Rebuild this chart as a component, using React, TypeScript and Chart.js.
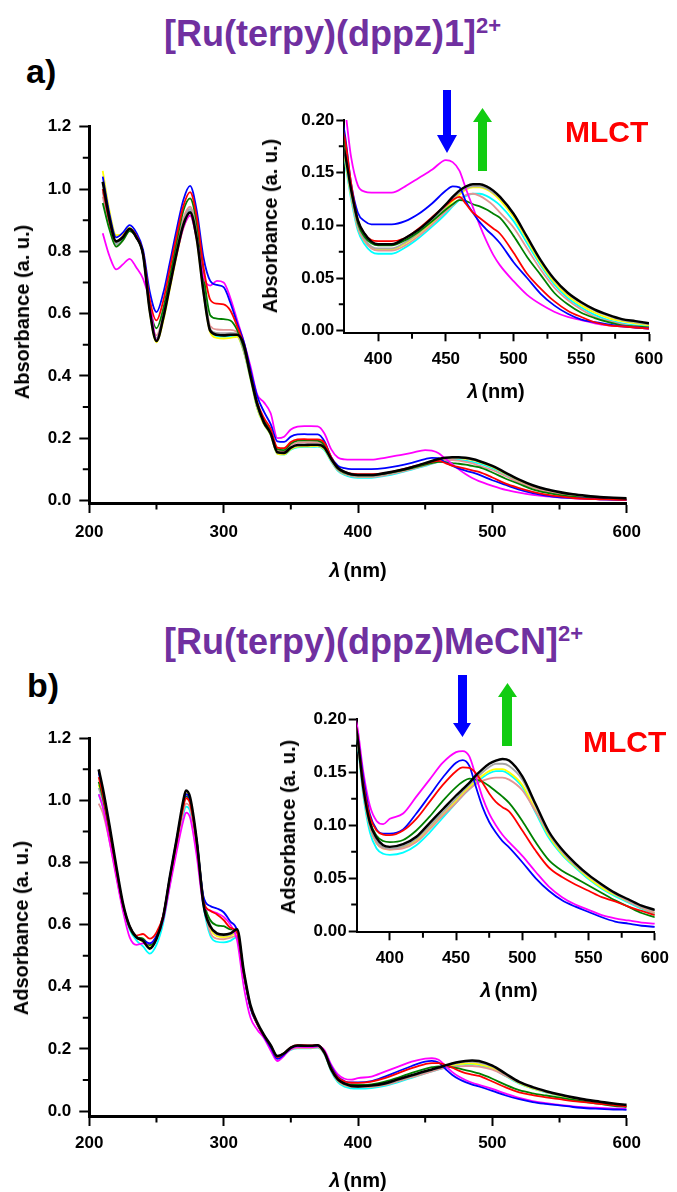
import React, { useEffect, useRef } from 'react';
import { Chart, registerables } from 'chart.js';

Chart.register(...registerables);

const FONT = "'Liberation Sans', Arial, Helvetica, sans-serif";

// ---------------- Panel a data ----------------
const wavelengthA = [210,215,220,225,230,235,240,245,250,255,260,265,270,275,280,285,290,295,300,305,310,315,320,325,330,335,340,345,350,355,360,365,370,375,380,385,390,395,400,410,420,430,440,450,455,460,465,470,475,480,485,490,500,510,520,530,540,550,560,570,580,590,600];

const absA_black = [1.023,0.905,0.832,0.845,0.872,0.845,0.79,0.61,0.512,0.585,0.69,0.795,0.885,0.925,0.84,0.67,0.545,0.532,0.53,0.532,0.532,0.5,0.4,0.31,0.25,0.215,0.155,0.153,0.17,0.178,0.178,0.179,0.179,0.17,0.134,0.105,0.092,0.0845,0.082,
  0.082,0.088,0.096,0.107,0.12,0.127,0.133,0.137,0.139,0.139,0.137,0.133,0.127,0.111,0.089,0.067,0.049,0.036,0.027,0.02,0.015,0.011,0.009,0.007];
const absA_blue = [1.04,0.92,0.845,0.86,0.884,0.86,0.805,0.67,0.605,0.665,0.765,0.87,0.965,1.01,0.93,0.78,0.705,0.692,0.685,0.635,0.57,0.51,0.42,0.335,0.285,0.245,0.19,0.188,0.205,0.212,0.213,0.212,0.212,0.19,0.14,0.112,0.104,0.101,0.101,
  0.101,0.104,0.111,0.121,0.133,0.137,0.136,0.122,0.112,0.103,0.096,0.09,0.083,0.065,0.05,0.035,0.024,0.016,0.0105,0.008,0.006,0.004,0.003,0.002];
const absA_red = [1.0,0.895,0.83,0.848,0.872,0.85,0.795,0.645,0.578,0.64,0.745,0.85,0.945,0.99,0.91,0.75,0.645,0.632,0.63,0.61,0.56,0.5,0.405,0.315,0.265,0.23,0.17,0.168,0.188,0.196,0.197,0.196,0.196,0.185,0.14,0.105,0.092,0.086,0.085,
  0.085,0.088,0.097,0.108,0.119,0.124,0.127,0.12,0.112,0.107,0.102,0.097,0.092,0.074,0.054,0.04,0.028,0.019,0.013,0.008,0.005,0.004,0.003,0.002];
const absA_green = [0.955,0.87,0.815,0.835,0.865,0.845,0.79,0.625,0.553,0.615,0.72,0.83,0.93,0.97,0.89,0.725,0.595,0.584,0.582,0.578,0.548,0.49,0.4,0.305,0.258,0.222,0.165,0.162,0.183,0.192,0.193,0.193,0.192,0.178,0.135,0.102,0.089,0.083,0.081,
  0.081,0.086,0.094,0.104,0.115,0.12,0.124,0.123,0.12,0.118,0.115,0.111,0.107,0.09,0.07,0.053,0.036,0.025,0.017,0.012,0.008,0.005,0.004,0.003];
const absA_pink = [0.975,0.88,0.815,0.835,0.865,0.843,0.788,0.61,0.53,0.595,0.7,0.81,0.905,0.943,0.865,0.7,0.56,0.549,0.548,0.548,0.54,0.485,0.398,0.302,0.255,0.218,0.16,0.158,0.178,0.186,0.187,0.187,0.187,0.174,0.13,0.098,0.085,0.078,0.076,
  0.076,0.081,0.09,0.101,0.113,0.119,0.125,0.129,0.13,0.128,0.124,0.119,0.112,0.098,0.078,0.058,0.041,0.029,0.02,0.013,0.009,0.006,0.004,0.003];
const absA_yellow = [1.058,0.93,0.852,0.855,0.875,0.848,0.79,0.605,0.508,0.575,0.68,0.785,0.875,0.915,0.835,0.665,0.54,0.522,0.52,0.522,0.525,0.478,0.39,0.295,0.245,0.21,0.15,0.148,0.165,0.173,0.174,0.174,0.175,0.165,0.128,0.098,0.085,0.079,0.077,
  0.077,0.083,0.092,0.103,0.116,0.123,0.129,0.134,0.136,0.136,0.134,0.13,0.124,0.108,0.086,0.064,0.046,0.033,0.024,0.017,0.012,0.009,0.007,0.005];
const absA_cyan = [1.0,0.89,0.825,0.84,0.868,0.845,0.79,0.61,0.52,0.585,0.69,0.8,0.893,0.935,0.855,0.69,0.548,0.528,0.526,0.527,0.528,0.478,0.39,0.295,0.245,0.21,0.15,0.147,0.163,0.171,0.172,0.172,0.173,0.162,0.125,0.095,0.082,0.075,0.073,
  0.073,0.079,0.088,0.099,0.111,0.118,0.124,0.128,0.13,0.13,0.128,0.124,0.119,0.104,0.083,0.062,0.044,0.031,0.022,0.015,0.01,0.007,0.005,0.004];
const absA_gray = [0.99,0.885,0.822,0.84,0.868,0.845,0.79,0.615,0.52,0.59,0.695,0.8,0.893,0.935,0.855,0.69,0.55,0.538,0.537,0.538,0.535,0.48,0.395,0.3,0.25,0.213,0.153,0.151,0.168,0.176,0.177,0.177,0.177,0.168,0.13,0.1,0.087,0.08,0.078,
  0.078,0.084,0.093,0.105,0.118,0.125,0.131,0.135,0.137,0.137,0.135,0.131,0.126,0.11,0.088,0.066,0.048,0.035,0.026,0.019,0.014,0.01,0.008,0.006];
const absA_magenta = [0.858,0.785,0.742,0.758,0.776,0.748,0.712,0.64,0.515,0.585,0.69,0.79,0.875,0.915,0.84,0.72,0.69,0.705,0.7,0.65,0.58,0.51,0.43,0.34,0.315,0.28,0.2,0.205,0.228,0.237,0.239,0.239,0.238,0.215,0.165,0.138,0.132,0.131,0.131,
  0.131,0.137,0.145,0.153,0.162,0.16,0.152,0.134,0.117,0.1,0.085,0.072,0.062,0.047,0.034,0.025,0.018,0.013,0.01,0.007,0.005,0.004,0.003,0.002];

// ---------------- Panel b data ----------------
const wavelengthB = [207,210,215,220,225,230,235,240,245,250,255,260,265,270,272,275,280,285,290,295,300,305,310,315,320,325,330,335,340,345,350,355,360,365,370,375,380,385,390,395,400,410,420,430,440,450,455,460,465,470,475,480,485,490,500,510,520,530,540,550,560,570,580,590,600];

const absB_black = [1.1,1.04,0.92,0.79,0.67,0.595,0.56,0.548,0.523,0.555,0.625,0.755,0.875,1.0,1.032,1.01,0.87,0.665,0.595,0.572,0.568,0.572,0.585,0.45,0.34,0.285,0.245,0.212,0.177,0.186,0.204,0.211,0.21,0.21,0.212,0.188,0.135,0.102,0.088,0.081,0.0795,
  0.082,0.089,0.102,0.115,0.128,0.134,0.14,0.147,0.153,0.158,0.161,0.1625,0.161,0.146,0.12,0.094,0.077,0.064,0.053,0.044,0.036,0.03,0.024,0.02];
const absB_red = [1.075,1.02,0.905,0.78,0.665,0.595,0.565,0.57,0.555,0.575,0.63,0.75,0.865,0.98,1.007,0.99,0.86,0.675,0.645,0.633,0.615,0.59,0.575,0.44,0.335,0.28,0.242,0.21,0.174,0.186,0.205,0.212,0.212,0.211,0.213,0.19,0.14,0.108,0.095,0.091,0.0905,
  0.095,0.106,0.122,0.138,0.151,0.1545,0.154,0.149,0.14,0.13,0.122,0.117,0.113,0.095,0.076,0.06,0.051,0.044,0.038,0.032,0.028,0.023,0.019,0.015];
const absB_blue = [1.09,1.03,0.91,0.785,0.665,0.595,0.56,0.55,0.54,0.565,0.63,0.755,0.875,0.99,1.02,1.0,0.87,0.69,0.66,0.652,0.64,0.61,0.58,0.44,0.33,0.28,0.24,0.205,0.168,0.182,0.203,0.21,0.209,0.209,0.211,0.19,0.145,0.11,0.096,0.092,0.092,
  0.096,0.111,0.128,0.145,0.159,0.1615,0.156,0.136,0.117,0.103,0.093,0.085,0.079,0.065,0.05,0.038,0.029,0.023,0.018,0.013,0.009,0.007,0.005,0.004];
const absB_magenta = [1.02,0.98,0.87,0.755,0.645,0.56,0.535,0.54,0.54,0.56,0.615,0.725,0.835,0.935,0.961,0.945,0.82,0.665,0.645,0.637,0.625,0.6,0.55,0.4,0.3,0.262,0.235,0.195,0.161,0.178,0.2,0.207,0.206,0.206,0.208,0.196,0.15,0.118,0.104,0.101,0.106,
  0.111,0.127,0.143,0.159,0.169,0.17,0.165,0.146,0.126,0.111,0.1,0.091,0.084,0.071,0.056,0.042,0.032,0.025,0.02,0.015,0.012,0.01,0.008,0.007];
const absB_green = [1.06,1.01,0.895,0.775,0.66,0.59,0.56,0.555,0.534,0.56,0.625,0.75,0.87,0.985,1.013,0.995,0.865,0.68,0.615,0.598,0.595,0.585,0.58,0.445,0.335,0.282,0.243,0.21,0.175,0.186,0.204,0.21,0.209,0.209,0.211,0.189,0.14,0.104,0.09,0.085,0.084,
  0.086,0.095,0.108,0.123,0.136,0.141,0.144,0.143,0.141,0.137,0.132,0.127,0.121,0.104,0.084,0.067,0.057,0.05,0.043,0.036,0.029,0.023,0.017,0.013];
const absB_pink = [0.99,0.96,0.87,0.76,0.655,0.59,0.56,0.55,0.535,0.56,0.62,0.74,0.855,0.965,0.99,0.975,0.85,0.67,0.575,0.555,0.553,0.558,0.565,0.445,0.335,0.28,0.24,0.208,0.175,0.184,0.198,0.203,0.203,0.203,0.205,0.185,0.132,0.098,0.083,0.078,0.077,
  0.078,0.084,0.096,0.109,0.121,0.128,0.134,0.139,0.142,0.144,0.145,0.145,0.143,0.133,0.113,0.092,0.075,0.062,0.052,0.043,0.035,0.028,0.022,0.017];
const absB_yellow = [1.05,1.01,0.9,0.78,0.665,0.595,0.56,0.545,0.53,0.555,0.625,0.75,0.87,0.99,1.023,1.005,0.87,0.685,0.59,0.563,0.56,0.564,0.575,0.445,0.335,0.282,0.243,0.21,0.176,0.185,0.199,0.204,0.204,0.204,0.206,0.185,0.132,0.098,0.083,0.078,0.077,
  0.079,0.085,0.097,0.11,0.123,0.13,0.136,0.142,0.147,0.151,0.153,0.153,0.15,0.138,0.114,0.09,0.073,0.061,0.05,0.041,0.034,0.028,0.022,0.017];
const absB_cyan = [1.02,0.98,0.88,0.765,0.655,0.585,0.55,0.53,0.507,0.535,0.605,0.73,0.85,0.955,0.98,0.965,0.84,0.66,0.565,0.545,0.543,0.548,0.56,0.44,0.333,0.28,0.24,0.207,0.173,0.183,0.197,0.202,0.202,0.202,0.204,0.183,0.128,0.093,0.078,0.073,0.072,
  0.074,0.081,0.093,0.107,0.121,0.128,0.134,0.14,0.145,0.149,0.151,0.151,0.148,0.136,0.112,0.088,0.072,0.06,0.049,0.04,0.033,0.027,0.021,0.016];
const absB_gray = [1.04,1.0,0.895,0.775,0.662,0.593,0.56,0.548,0.525,0.553,0.623,0.75,0.87,0.99,1.02,1.0,0.87,0.685,0.6,0.568,0.565,0.568,0.58,0.447,0.337,0.283,0.244,0.211,0.176,0.186,0.202,0.208,0.207,0.207,0.209,0.187,0.134,0.1,0.085,0.079,0.078,
  0.08,0.087,0.099,0.112,0.125,0.132,0.138,0.144,0.15,0.155,0.158,0.158,0.156,0.143,0.118,0.092,0.075,0.062,0.052,0.043,0.035,0.029,0.023,0.019];

// ---------------- Axis ticks ----------------
const mainXMajor = [200, 300, 400, 500, 600];
const mainXMinor = [250, 350, 450, 550];
const mainYMajor = [0, 0.2, 0.4, 0.6, 0.8, 1.0, 1.2];
const mainYMinor = [0.1, 0.3, 0.5, 0.7, 0.9, 1.1];
const insetXMajor = [400, 450, 500, 550, 600];
const insetXMinor = [425, 475, 525, 575];
const insetYMajor = [0, 0.05, 0.1, 0.15, 0.2];
const insetYMinor = [0.025, 0.075, 0.125, 0.175];

const COLORS = {
  black: '#000000', red: '#FF0000', blue: '#0000FF', magenta: '#FF00FF', green: '#008000',
  gray: '#A6A6A6', pink: '#E39494', yellow: '#FFFF00', cyan: '#00FFFF',
};

const seriesA = [
  { color: COLORS.black, values: absA_black },
  { color: COLORS.red, values: absA_red },
  { color: COLORS.blue, values: absA_blue },
  { color: COLORS.magenta, values: absA_magenta },
  { color: COLORS.green, values: absA_green },
  { color: COLORS.gray, values: absA_gray },
  { color: COLORS.pink, values: absA_pink },
  { color: COLORS.yellow, values: absA_yellow },
  { color: COLORS.cyan, values: absA_cyan },
];
const seriesB = [
  { color: COLORS.black, values: absB_black },
  { color: COLORS.red, values: absB_red },
  { color: COLORS.blue, values: absB_blue },
  { color: COLORS.magenta, values: absB_magenta },
  { color: COLORS.green, values: absB_green },
  { color: COLORS.gray, values: absB_gray },
  { color: COLORS.pink, values: absB_pink },
  { color: COLORS.yellow, values: absB_yellow },
  { color: COLORS.cyan, values: absB_cyan },
];

const minorTicksPlugin = {
  id: 'minorTicks',
  afterDraw(chart: any, _args: any, opts: any) {
    const { ctx, chartArea } = chart;
    const xs = chart.scales.x;
    const ys = chart.scales.y;
    ctx.save();
    ctx.strokeStyle = '#000';
    ctx.lineWidth = opts.width;
    ctx.beginPath();
    for (const v of opts.x) {
      const p = xs.getPixelForValue(v);
      ctx.moveTo(p, chartArea.bottom);
      ctx.lineTo(p, chartArea.bottom + opts.len);
    }
    for (const v of opts.y) {
      const p = ys.getPixelForValue(v);
      ctx.moveTo(chartArea.left, p);
      ctx.lineTo(chartArea.left - opts.len, p);
    }
    ctx.stroke();
    ctx.restore();
  },
};

type Spec = {
  left: number; top: number; w: number; h: number;
  xs: number[]; series: { color: string; values: number[] }[];
  xMin: number; xMax: number; yMin: number; yMax: number;
  xMajor: number[]; xMinor: number[]; yMajor: number[]; yMinor: number[];
  yDigits: number; padTop: number; padRight: number; yWidth: number; xHeight: number;
  tl: number; minorLen: number; border: number; xPad: number; yPad: number;
  lw: number; blackLw: number; fontSize: number;
};

function buildConfig(s: Spec): any {
  const tickFont = { family: FONT, size: s.fontSize, weight: 'bold' as const };
  return {
    type: 'line',
    data: {
      datasets: s.series.map((ser) => ({
        data: s.xs.map((x, i) => ({ x, y: ser.values[i] })),
        borderColor: ser.color,
        backgroundColor: ser.color,
        borderWidth: ser.color === COLORS.black ? s.blackLw : s.lw,
        pointRadius: 0,
        fill: false,
        cubicInterpolationMode: 'monotone',
      })),
    },
    plugins: [minorTicksPlugin],
    options: {
      animation: false,
      responsive: false,
      maintainAspectRatio: false,
      devicePixelRatio: 1,
      events: [],
      layout: { padding: { top: s.padTop, right: s.padRight, left: 0, bottom: 0 } },
      plugins: {
        legend: { display: false },
        tooltip: { enabled: false },
        title: { display: false },
        minorTicks: { x: s.xMinor, y: s.yMinor, len: s.minorLen, width: 2 },
      },
      scales: {
        x: {
          type: 'linear',
          min: s.xMin,
          max: s.xMax,
          afterBuildTicks: (axis: any) => { axis.ticks = s.xMajor.map((v) => ({ value: v })); },
          afterFit: (axis: any) => { axis.height = s.xHeight; },
          grid: { drawOnChartArea: false, drawTicks: true, tickLength: s.tl, tickWidth: 2, tickColor: '#000' },
          border: { display: true, color: '#000', width: s.border },
          ticks: { color: '#000', font: tickFont, padding: s.xPad, maxRotation: 0, autoSkip: false, callback: (v: any) => String(v) },
        },
        y: {
          type: 'linear',
          min: s.yMin,
          max: s.yMax,
          afterBuildTicks: (axis: any) => { axis.ticks = s.yMajor.map((v) => ({ value: v })); },
          afterFit: (axis: any) => { axis.width = s.yWidth; },
          grid: { drawOnChartArea: false, drawTicks: true, tickLength: s.tl, tickWidth: 2, tickColor: '#000' },
          border: { display: true, color: '#000', width: s.border },
          ticks: { color: '#000', font: tickFont, padding: s.yPad, autoSkip: false, callback: (v: any) => Number(v).toFixed(s.yDigits) },
        },
      },
    },
  };
}

function ChartCanvas({ spec }: { spec: Spec }) {
  const ref = useRef<HTMLCanvasElement>(null);
  useEffect(() => {
    const chart = new Chart(ref.current as HTMLCanvasElement, buildConfig(spec));
    return () => chart.destroy();
  }, []);
  return (
    <canvas
      ref={ref}
      width={spec.w}
      height={spec.h}
      style={{ position: 'absolute', left: spec.left, top: spec.top, width: spec.w, height: spec.h }}
    />
  );
}

const mainA: Spec = {
  left: 0, top: 100, w: 677, h: 460, xs: wavelengthA, series: seriesA,
  xMin: 200, xMax: 600, yMin: -0.008, yMax: 1.2,
  xMajor: mainXMajor, xMinor: mainXMinor, yMajor: mainYMajor, yMinor: mainYMinor, yDigits: 1,
  padTop: 26.7, padRight: 50.3, yWidth: 89.3, xHeight: 57,
  tl: 10, minorLen: 6.5, border: 3, xPad: 9, yPad: 8, lw: 1.8, blackLw: 2.6, fontSize: 17,
};
const mainB: Spec = {
  left: 0, top: 710, w: 677, h: 460, xs: wavelengthB, series: seriesB,
  xMin: 200, xMax: 600, yMin: -0.016, yMax: 1.2,
  xMajor: mainXMajor, xMinor: mainXMinor, yMajor: mainYMajor, yMinor: mainYMinor, yDigits: 1,
  padTop: 28.3, padRight: 50.3, yWidth: 89.3, xHeight: 54,
  tl: 10, minorLen: 6.5, border: 3, xPad: 7, yPad: 8, lw: 1.8, blackLw: 2.6, fontSize: 17,
};
const insetA: Spec = {
  left: 280, top: 100, w: 397, h: 270, xs: wavelengthA, series: seriesA,
  xMin: 375, xMax: 600, yMin: -0.0025, yMax: 0.2,
  xMajor: insetXMajor, xMinor: insetXMinor, yMajor: insetYMajor, yMinor: insetYMinor, yDigits: 2,
  padTop: 20, padRight: 28, yWidth: 64.3, xHeight: 36.7,
  tl: 8, minorLen: 5.5, border: 2, xPad: 8, yPad: 2, lw: 1.8, blackLw: 2.4, fontSize: 17,
};
const insetB: Spec = {
  left: 290, top: 700, w: 387, h: 270, xs: wavelengthB, series: seriesB,
  xMin: 375, xMax: 600, yMin: -0.0012, yMax: 0.2,
  xMajor: insetXMajor, xMinor: insetXMinor, yMajor: insetYMajor, yMinor: insetYMinor, yDigits: 2,
  padTop: 19.3, padRight: 16.3, yWidth: 66.7, xHeight: 37.7,
  tl: 8, minorLen: 5.5, border: 2, xPad: 8, yPad: 2, lw: 1.8, blackLw: 2.4, fontSize: 17,
};

const BASE = 0.8465; // baseline offset for line-height:1 in Liberation Sans

function Label({ left, baseline, size, color = '#000', children }: any) {
  return (
    <div style={{ position: 'absolute', left, top: baseline - BASE * size, fontFamily: FONT, fontWeight: 'bold', fontSize: size, lineHeight: 1, color, whiteSpace: 'nowrap' }}>
      {children}
    </div>
  );
}

function AxisTitle({ cx, cy, rotate = false, children }: any) {
  return (
    <div style={{
      position: 'absolute', left: cx, top: cy,
      transform: rotate ? 'translate(-50%, -50%) rotate(-90deg)' : 'translate(-50%, -50%)',
      fontFamily: FONT, fontWeight: 'bold', fontSize: 20, lineHeight: 1, color: '#000', whiteSpace: 'nowrap',
    }}>
      {children}
    </div>
  );
}

const Lambda = () => (
  <span><span style={{ fontStyle: 'italic' }}>λ</span><span style={{ marginLeft: 3 }}>(nm)</span></span>
);

function Title({ baseline, text }: any) {
  return (
    <Label left={164} baseline={baseline} size={36} color="#7030A0">
      {text}<span style={{ fontSize: 22, position: 'relative', top: -13 }}>2+</span>
    </Label>
  );
}

export default function App() {
  return (
    <div style={{ position: 'absolute', left: 0, top: 0, width: 677, height: 1192, background: '#fff', overflow: 'hidden' }}>
      <Title baseline={46} text="[Ru(terpy)(dppz)1]" />
      <Label left={26} baseline={83} size={34}>a)</Label>
      <Title baseline={654} text="[Ru(terpy)(dppz)MeCN]" />
      <Label left={27} baseline={697} size={34}>b)</Label>

      <ChartCanvas spec={mainA} />
      <ChartCanvas spec={insetA} />
      <ChartCanvas spec={mainB} />
      <ChartCanvas spec={insetB} />

      <AxisTitle cx={22} cy={312} rotate>Absorbance (a. u.)</AxisTitle>
      <AxisTitle cx={358} cy={570}><Lambda /></AxisTitle>
      <AxisTitle cx={270} cy={226} rotate>Absorbance (a. u.)</AxisTitle>
      <AxisTitle cx={496} cy={391}><Lambda /></AxisTitle>

      <AxisTitle cx={21} cy={928} rotate>Adsorbance (a. u.)</AxisTitle>
      <AxisTitle cx={358} cy={1180}><Lambda /></AxisTitle>
      <AxisTitle cx={288} cy={827} rotate>Adsorbance (a. u.)</AxisTitle>
      <AxisTitle cx={509} cy={990}><Lambda /></AxisTitle>

      <Label left={565} baseline={142} size={30} color="#FF0000">MLCT</Label>
      <Label left={583} baseline={752} size={30} color="#FF0000">MLCT</Label>

      <svg width={677} height={1192} style={{ position: 'absolute', left: 0, top: 0, pointerEvents: 'none' }}>
        <polygon points="443,90 451,90 451,135 457,135 447,153 437,135 443,135" fill="#0000FF" />
        <polygon points="482.5,108 492,122 487,122 487,171 478,171 478,122 473,122" fill="#11CC11" />
        <polygon points="458,675 467,675 467,723 471,723 462.5,737 453,723 458,723" fill="#0000FF" />
        <polygon points="507.5,683 517,697 512,697 512,746 502,746 502,697 498,697" fill="#11CC11" />
      </svg>
    </div>
  );
}
